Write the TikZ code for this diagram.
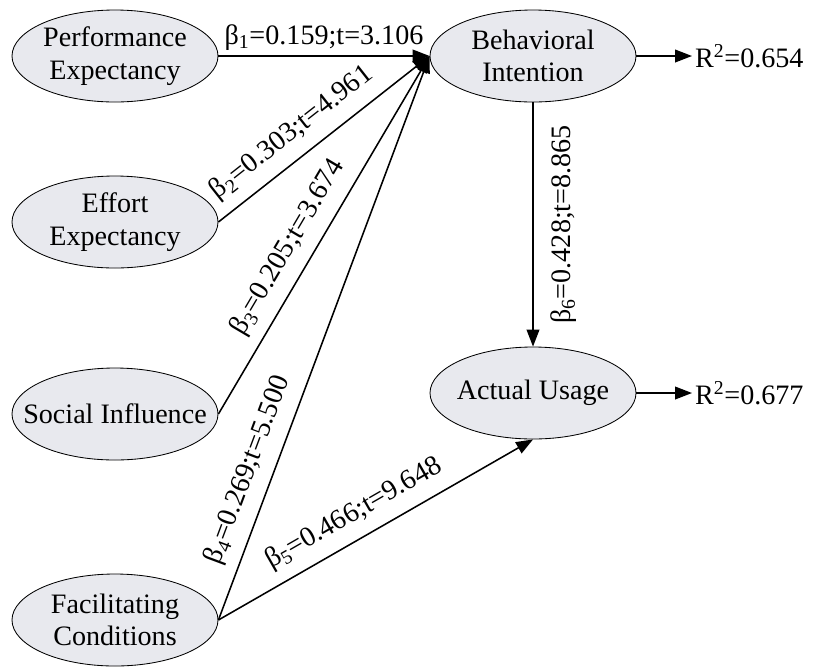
\documentclass[tikz,border=0pt]{standalone}
\usepackage{fontspec}
\setmainfont{Liberation Serif}
\usetikzlibrary{arrows.meta, shapes.geometric}
\definecolor{constructfill}{RGB}{232,233,238}

\begin{document}
\begin{tikzpicture}[every node/.style={font=\fontsize{20}{23}\selectfont}, construct/.style={ellipse,draw,line width=0.6pt,fill=constructfill,minimum width=5.15cm,minimum height=2.3cm,inner xsep=-0.5cm,inner ysep=0pt,align=center}, link/.style={-{Triangle[length=12pt,width=9pt]},line width=1.1pt}, coef/.style={above=4pt,sloped,inner sep=4pt}]
    \useasboundingbox (0,0) rectangle (20.325,-16.7);
    \node[construct] (pe) at (2.875,-1.4) {Performance\\Expectancy};
    \node[construct] (ee) at (2.875,-5.55) {Effort\\Expectancy};
    \node[construct] (si) at (2.875,-10.35) {Social Influence};
    \node[construct] (fc) at (2.875,-15.5) {Facilitating\\Conditions};
    \node[construct] (bi) at (13.325,-1.4) {Behavioral\\Intention};
    \node[construct] (au) at (13.325,-9.825) {Actual Usage};
    \node[anchor=west,inner sep=2pt] (r1) at (17.3,-1.4) {R\textsuperscript{2}=0.654};
    \node[anchor=west,inner sep=2pt] (r2) at (17.3,-9.825) {R\textsuperscript{2}=0.677};
    \draw[link] (pe) -- (bi) node[midway,above] {β\textsubscript{1}=0.159;t=3.106};
    \draw[link] (ee.east) -- (bi.west) node[pos=0.42,coef] {β\textsubscript{2}=0.303;t=4.961};
    \draw[link] (si.east) -- (bi.west) node[pos=0.43,coef] {β\textsubscript{3}=0.205;t=3.674};
    \draw[link] (fc.east) -- (bi.west) node[pos=0.25,coef] {β\textsubscript{4}=0.269;t=5.500};
    \draw[link] (fc.east) -- (au.south) node[pos=0.47,coef] {β\textsubscript{5}=0.466;t=9.648};
    \draw[link] (bi) -- (au) node[midway,rotate=90,anchor=north,inner xsep=2pt,inner ysep=12pt] {β\textsubscript{6}=0.428;t=8.865};
    \draw[link] (bi) -- (r1);
    \draw[link] (au) -- (r2);
\end{tikzpicture}
\end{document}
